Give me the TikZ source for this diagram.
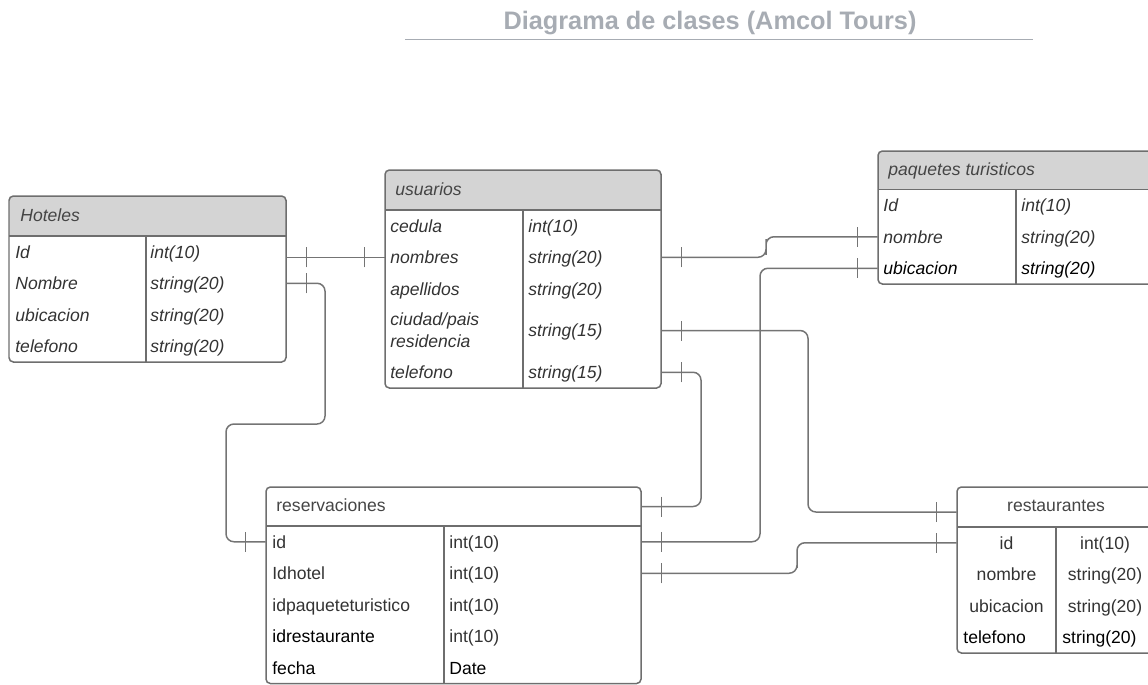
\documentclass[tikz,border=0pt]{standalone}
\usepackage{fontspec}
\setmainfont{Liberation Sans}
\usepackage{tikz}
\usetikzlibrary{calc,fit,decorations.markings}
\definecolor{frame}{HTML}{6E6E6E}
\definecolor{wire}{HTML}{747474}
\definecolor{headgray}{HTML}{D4D4D4}
\definecolor{ink}{HTML}{333333}
\definecolor{hdink}{HTML}{454545}
\definecolor{titlegray}{HTML}{A7ACB3}

\begin{document}
\begin{tikzpicture}[x=0.02cm,y=-0.02cm,
  box/.style={draw=frame,line width=0.85pt,rounded corners=2.5pt},
  rule/.style={draw=frame,line width=0.85pt},
  head/.style={fill=headgray,rounded corners=2.5pt},
  slot/.style={inner sep=0pt,draw=none},
  txt/.style={anchor=west,inner sep=0pt,text height=7.2pt,text depth=0pt,
    font=\fontsize{10}{12.5}\selectfont,text=ink},
  itxt/.style={txt,font=\fontsize{10}{12.5}\selectfont\itshape},
  ctxt/.style={txt,anchor=center},
  link/.style={draw=wire,line width=0.85pt,rounded corners=4.5pt,
    postaction={decorate},
    decoration={markings,
      mark=at position 0.4cm with {\draw[wire,line width=0.85pt] (0,-0.2cm) -- (0,0.2cm);},
      mark=at position -0.4cm with {\draw[wire,line width=0.85pt] (0,-0.2cm) -- (0,0.2cm);}}}]
  \useasboundingbox (0,0) rectangle (1148,684);
  \clip (0,0) rectangle (1148,684);

  % title
  \node[inner sep=0pt,text height=10.3pt,text depth=0pt,text=titlegray,
    font=\fontsize{14.4}{16}\selectfont\bfseries] (title) at (710,20) {Diagrama de clases (Amcol Tours)};
  \draw[titlegray,line width=1.1pt] (405,39.5) -- (1033,39.5);

  % Hoteles
  \fill[head] (9,196) rectangle (286,236);
  \fill[headgray] (9,220) rectangle (286,236);
  \draw[box] (9,196) rectangle (286,362);
  \draw[rule] (9,236) -- (286,236) (146,236) -- (146,362);
  \node[itxt,text=hdink] (hot) at (20,215) {Hoteles};
  \foreach \f/\t [count=\i] in {Id/int(10),Nombre/string(20),ubicacion/string(20),telefono/string(20)} {
    \node[slot,fit={(9,204.5+31.5*\i) (286,236+31.5*\i)}] (hot\i) {};
    \node[itxt] (hotf\i) at (15,220.25+31.5*\i) {\f};
    \node[itxt] (hott\i) at (150,220.25+31.5*\i) {\t};
  }

  % usuarios
  \fill[head] (385,170) rectangle (661,210);
  \fill[headgray] (385,194) rectangle (661,210);
  \draw[box] (385,170) rectangle (661,388);
  \draw[rule] (385,210) -- (661,210) (523,210) -- (523,388);
  \node[itxt,text=hdink] (usu) at (395,189) {usuarios};
  \foreach \f/\t/\a/\b [count=\i] in {cedula/int(10)/210/241.5,
      nombres/string(20)/241.5/273,
      apellidos/string(20)/273/304.5} {
    \node[slot,fit={(385,\a) (661,\b)}] (usu\i) {};
    \node[itxt] (usuf\i) at (390,\a/2+\b/2) {\f};
    \node[itxt] (usut\i) at (528,\a/2+\b/2) {\t};
  }
  \node[slot,fit={(385,304.5) (661,356.5)}] (usu4) {};
  \node[itxt] (usuf4) at (390,319) {ciudad/pais};
  \node[itxt] (usuf4b) at (390,341) {residencia};
  \node[itxt] (usut4) at (528,330.5) {string(15)};
  \node[slot,fit={(385,356.5) (661,388)}] (usu5) {};
  \node[itxt] (usuf5) at (390,372.25) {telefono};
  \node[itxt] (usut5) at (528,372.25) {string(15)};

  % paquetes turisticos
  \fill[head] (878,151) rectangle (1154,189.5);
  \fill[headgray] (878,175) rectangle (1154,189.5);
  \draw[box] (878,151) rectangle (1154,284);
  \draw[rule] (878,189.5) -- (1154,189.5) (1016,189.5) -- (1016,284);
  \node[itxt,text=hdink] (paq) at (888,169) {paquetes turisticos};
  \foreach \f/\t/\c [count=\i] in {Id/int(10)/ink,nombre/string(20)/ink,ubicacion/string(20)/black} {
    \node[slot,fit={(878,158+31.5*\i) (1154,189.5+31.5*\i)}] (paq\i) {};
    \node[itxt,text=\c] (paqf\i) at (883,173.75+31.5*\i) {\f};
    \node[itxt,text=\c] (paqt\i) at (1021,173.75+31.5*\i) {\t};
  }

  % reservaciones
  \draw[box] (266,487) rectangle (641,683.5);
  \draw[rule] (266,526) -- (641,526) (444,526) -- (444,683.5);
  \node[slot,fit={(266,487) (641,526)}] (resh) {};
  \node[txt,text=hdink] (res) at (276,505) {reservaciones};
  \foreach \f/\t/\c/\d [count=\i] in {id/int(10)/ink/ink,Idhotel/int(10)/ink/ink,
      idpaqueteturistico/int(10)/ink/ink,idrestaurante/int(10)/black/ink,fecha/Date/black/black} {
    \node[slot,fit={(266,494.5+31.5*\i) (641,526+31.5*\i)}] (res\i) {};
    \node[txt,text=\c] (resf\i) at (272,510.25+31.5*\i) {\f};
    \node[txt,text=\d] (rest\i) at (449,510.25+31.5*\i) {\t};
  }

  % restaurantes
  \draw[box] (957,487) rectangle (1154,653);
  \draw[rule] (957,527) -- (1154,527) (1056,527) -- (1056,653);
  \node[slot,fit={(957,487) (1154,527)}] (rsth) {};
  \node[ctxt,text=hdink] (rst) at (1056,505) {restaurantes};
  \foreach \f/\t [count=\i] in {id/int(10),nombre/string(20),ubicacion/string(20)} {
    \node[slot,fit={(957,495.5+31.5*\i) (1154,527+31.5*\i)}] (rst\i) {};
    \node[ctxt] (rstf\i) at (1006.5,511.25+31.5*\i) {\f};
    \node[ctxt] (rstt\i) at (1105,511.25+31.5*\i) {\t};
  }
  \node[slot,fit={(957,621.5) (1154,653)}] (rst4) {};
  \node[txt,text=black] (rstf4) at (963,637.25) {telefono};
  \node[txt,text=black] (rstt4) at (1062,637.25) {string(20)};

  % relaciones
  \path[link] (usu2.west -| hot1.east) -- (usu2.west);
  \path[link] (hot2.east) -| (325,424) -- (226,424) |- (res1.west);
  \path[link] (usu2.east) -| (766,247) |- (paq2.west);
  \path[link] (paq3.west) -| (760,400) |- (res1.east);
  \path[link] (usu4.east) -| (808,420) |- ($(rsth.west)+(0,5)$);
  \path[link] (usu5.east) -| (701,440) |- (resh.east);
  \path[link] (res2.east) -| (797,560) |- (rst1.west);
\end{tikzpicture}
\end{document}
